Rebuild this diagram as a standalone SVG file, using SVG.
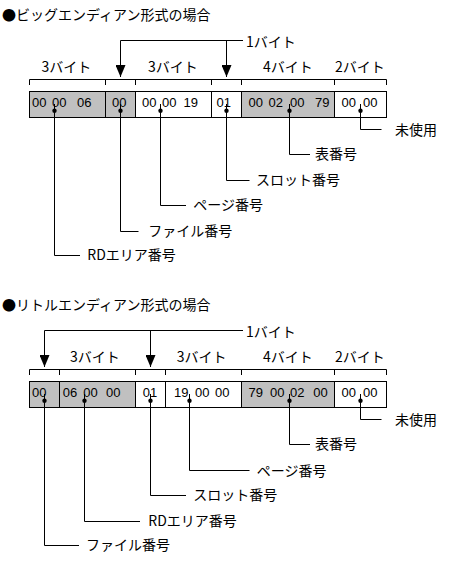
<svg xmlns="http://www.w3.org/2000/svg" width="449" height="562" viewBox="0 0 449 562">
<style>
.t{font-family:"Noto Sans CJK JP","Noto Sans CJK SC",sans-serif;font-size:14px;fill:#000}
.h{font-family:"Liberation Sans",Arial,sans-serif;font-size:13px;fill:#000}
.g{fill:#c0c0c0;stroke:#000;stroke-width:1}
.w{fill:#fff;stroke:#000;stroke-width:1}
.ln{fill:none;stroke:#000;stroke-width:1}
.dot{fill:#000}
</style>
<defs>
<marker id="arr" markerUnits="userSpaceOnUse" viewBox="0 0 10 12" refX="5" refY="12" markerWidth="10" markerHeight="12" orient="0">
<path d="M0,0 L10,0 L5,12 z" fill="#000"/>
</marker>
</defs>
<rect width="449" height="562" fill="#fff"/>

<g id="title-big"><text class="t" x="2" y="20">●ビッグエンディアン形式の場合</text></g>
<g id="title-little"><text class="t" x="2" y="310">●リトルエンディアン形式の場合</text></g>

<!-- Big endian -->
<g id="big-fields">
<g id="big-f1"><rect class="g" x="29.5" y="91.5" width="76" height="26"/><text class="h" y="106.5"><tspan x="32">00</tspan> <tspan x="52">00</tspan> <tspan x="77">06</tspan></text></g>
<g id="big-f2"><rect class="g" x="105.5" y="91.5" width="30" height="26"/><text class="h" y="106.5"><tspan x="112">00</tspan></text></g>
<g id="big-f3"><rect class="w" x="135.5" y="91.5" width="76" height="26"/><text class="h" y="106.5"><tspan x="142">00</tspan> <tspan x="162">00</tspan> <tspan x="183.5">19</tspan></text></g>
<g id="big-f4"><rect class="w" x="211.5" y="91.5" width="30" height="26"/><text class="h" y="106.5"><tspan x="216.5">01</tspan></text></g>
<g id="big-f5"><rect class="g" x="241.5" y="91.5" width="93" height="26"/><text class="h" y="106.5"><tspan x="248.5">00</tspan> <tspan x="268.5">02</tspan> <tspan x="290">00</tspan> <tspan x="315">79</tspan></text></g>
<g id="big-f6"><rect class="w" x="334.5" y="91.5" width="52" height="26"/><text class="h" y="106.5"><tspan x="341.5">00</tspan> <tspan x="363">00</tspan></text></g>
</g>
<g id="big-sizes">
<text class="t" x="41.5" y="72">3バイト</text>
<text class="t" x="148" y="72">3バイト</text>
<text class="t" x="263" y="72">4バイト</text>
<text class="t" x="335" y="72">2バイト</text>
<text class="t" x="246" y="46.5">1バイト</text>
</g>
<g id="big-labels">
<text class="t" x="395" y="134.5">未使用</text>
<text class="t" x="315" y="159">表番号</text>
<text class="t" x="256" y="185">スロット番号</text>
<text class="t" x="193.3" y="210">ページ番号</text>
<text class="t" x="148.3" y="236">ファイル番号</text>
<text class="t" x="87.3" y="260">RDエリア番号</text>
</g>

<!-- Little endian -->
<g id="little-fields">
<g id="lit-f1"><rect class="g" x="29.5" y="381.5" width="30" height="26"/><text class="h" y="396.5"><tspan x="32">00</tspan></text></g>
<g id="lit-f2"><rect class="g" x="59.5" y="381.5" width="76" height="26"/><text class="h" y="396.5"><tspan x="62.7">06</tspan> <tspan x="83.3">00</tspan> <tspan x="106">00</tspan></text></g>
<g id="lit-f3"><rect class="w" x="135.5" y="381.5" width="30" height="26"/><text class="h" y="396.5"><tspan x="142.7">01</tspan></text></g>
<g id="lit-f4"><rect class="w" x="165.5" y="381.5" width="76" height="26"/><text class="h" y="396.5"><tspan x="174">19</tspan> <tspan x="195">00</tspan> <tspan x="215">00</tspan></text></g>
<g id="lit-f5"><rect class="g" x="241.5" y="381.5" width="93" height="26"/><text class="h" y="396.5"><tspan x="248.5">79</tspan> <tspan x="270">00</tspan> <tspan x="290">02</tspan> <tspan x="313.3">00</tspan></text></g>
<g id="lit-f6"><rect class="w" x="334.5" y="381.5" width="52" height="26"/><text class="h" y="396.5"><tspan x="341.5">00</tspan> <tspan x="363">00</tspan></text></g>
</g>
<g id="little-sizes">
<text class="t" x="70" y="362">3バイト</text>
<text class="t" x="176.7" y="362">3バイト</text>
<text class="t" x="263" y="362">4バイト</text>
<text class="t" x="335" y="362">2バイト</text>
<text class="t" x="246" y="336.5">1バイト</text>
</g>
<g id="little-labels">
<text class="t" x="395" y="424.5">未使用</text>
<text class="t" x="315" y="449">表番号</text>
<text class="t" x="256.7" y="476">ページ番号</text>
<text class="t" x="193.3" y="500">スロット番号</text>
<text class="t" x="148.3" y="526">RDエリア番号</text>
<text class="t" x="86" y="550">ファイル番号</text>
</g>

<g id="connectors">
<path class="ln" d="M29.5,85 V79.5 H386.5 V85 M105.5,79.5 V85 M135.5,79.5 V85 M211.5,79.5 V85 M241.5,79.5 V85 M334.5,79.5 V85"/>
<path class="ln" d="M243,40.5 H120.5 V77" marker-end="url(#arr)"/>
<path class="ln" d="M226.5,40.5 V77" marker-end="url(#arr)"/>
<path class="ln" d="M360.5,104 V129.5 H381.5"/>
<path class="ln" d="M289.5,104 V154.5 H310"/>
<path class="ln" d="M226.5,104 V180.5 H249.5"/>
<path class="ln" d="M160.5,104 V205.5 H186"/>
<path class="ln" d="M120.5,104 V231.5 H138.5"/>
<path class="ln" d="M54.5,104 V255.5 H80"/>
<circle class="dot" cx="360.5" cy="110.7" r="2.2"/>
<circle class="dot" cx="289.5" cy="110.7" r="2.2"/>
<circle class="dot" cx="226.5" cy="110.7" r="2.2"/>
<circle class="dot" cx="160.5" cy="110.7" r="2.2"/>
<circle class="dot" cx="120.5" cy="110.7" r="2.2"/>
<circle class="dot" cx="54.5" cy="110.7" r="2.2"/>
<path class="ln" d="M29.5,375 V369.5 H386.5 V375 M59.5,369.5 V375 M135.5,369.5 V375 M165.5,369.5 V375 M241.5,369.5 V375 M334.5,369.5 V375"/>
<path class="ln" d="M243,330.5 H44.5 V367" marker-end="url(#arr)"/>
<path class="ln" d="M150.5,330.5 V367" marker-end="url(#arr)"/>
<path class="ln" d="M360.5,394 V419.5 H381.5"/>
<path class="ln" d="M289.5,394 V444.5 H310"/>
<path class="ln" d="M189.5,394 V470.5 H249.5"/>
<path class="ln" d="M150.5,394 V495.5 H186"/>
<path class="ln" d="M84.5,394 V521.5 H140"/>
<path class="ln" d="M44.5,394 V545.5 H79"/>
<circle class="dot" cx="360.5" cy="400.7" r="2.2"/>
<circle class="dot" cx="289.5" cy="400.7" r="2.2"/>
<circle class="dot" cx="189.5" cy="400.7" r="2.2"/>
<circle class="dot" cx="150.5" cy="400.7" r="2.2"/>
<circle class="dot" cx="84.5" cy="400.7" r="2.2"/>
<circle class="dot" cx="44.5" cy="400.7" r="2.2"/>
</g>
</svg>
